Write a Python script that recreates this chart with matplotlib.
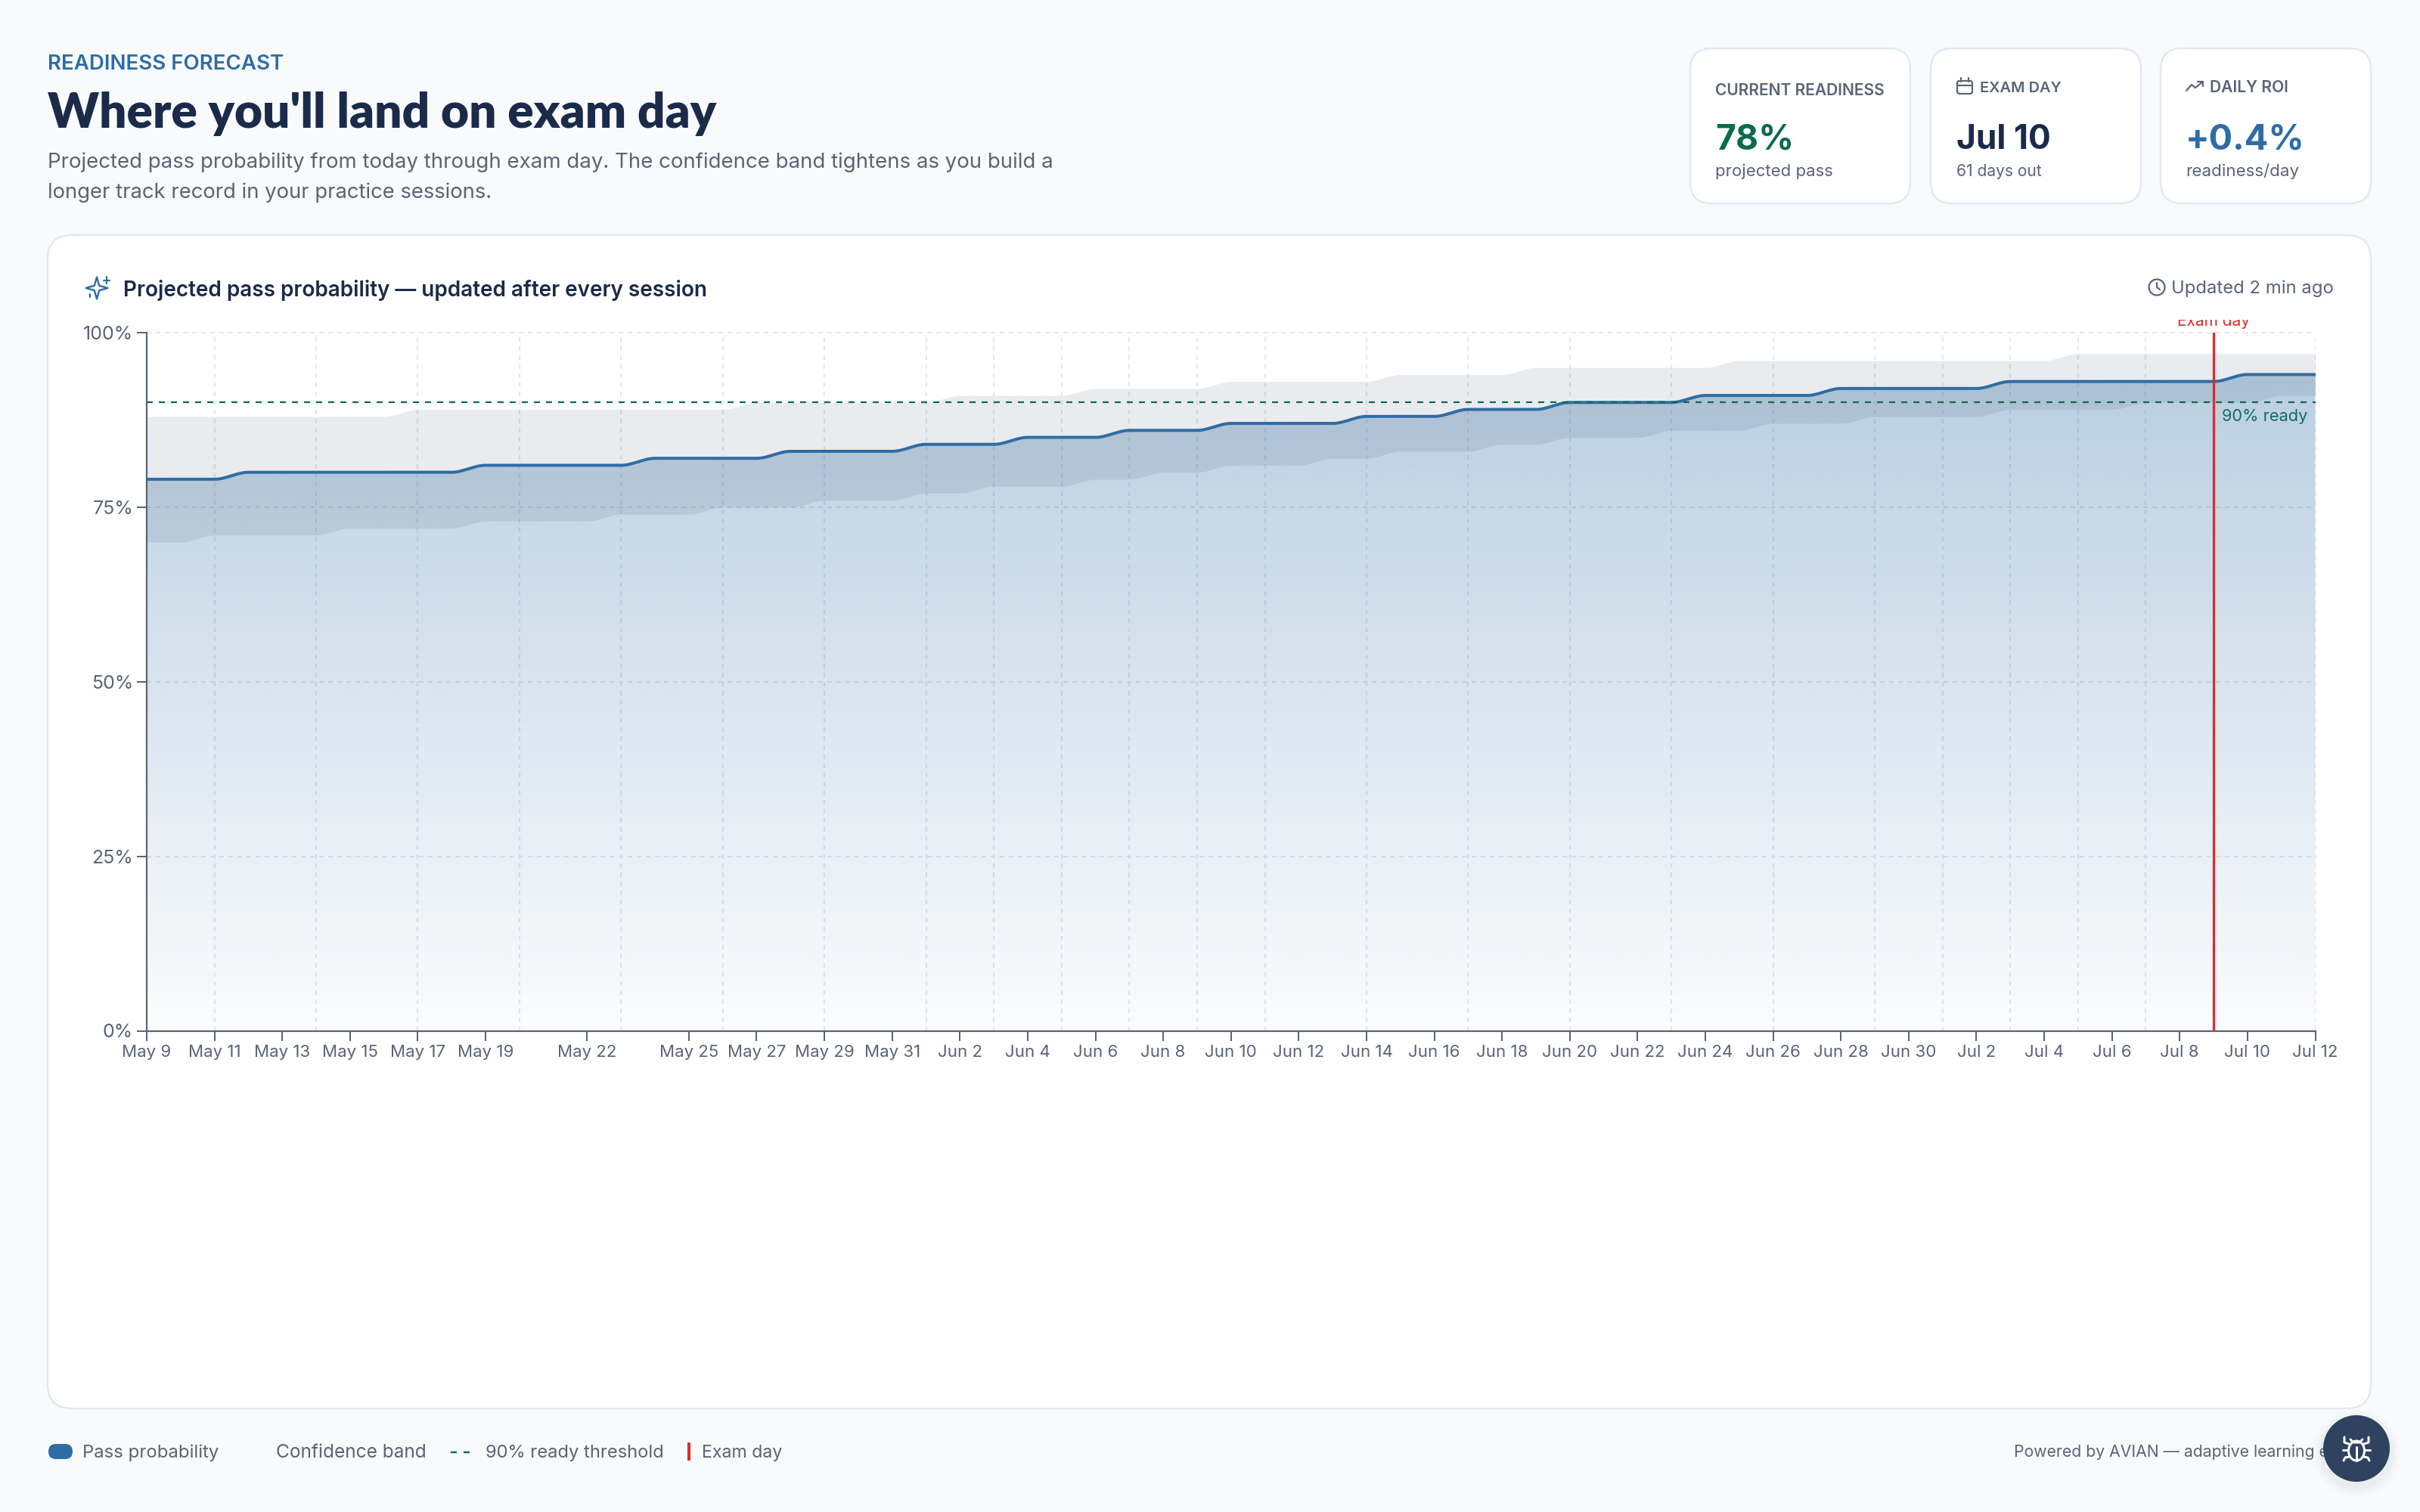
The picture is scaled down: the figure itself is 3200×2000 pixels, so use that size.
#!/usr/bin/env python3
"""Readiness forecast dashboard: pass probability with confidence band."""
import numpy as np
import pandas as pd
import matplotlib
matplotlib.use("Agg")
import matplotlib.pyplot as plt
from matplotlib.patches import Circle, Ellipse, FancyBboxPatch, Polygon, Rectangle

plt.rcParams["font.family"] = ["Inter", "DejaVu Sans"]
plt.rcParams["lines.scale_dashes"] = False

# ---- data, one value per day from May 9 ----
pass_prob = [79, 79, 79, 80, 80, 80, 80, 80, 80, 80, 81, 81, 81, 81, 81, 82, 82, 82, 82, 83, 83, 83, 83,
             84, 84, 84, 85, 85, 85, 86, 86, 86, 87, 87, 87, 87, 88, 88, 88, 89, 89, 89, 90, 90, 90, 90,
             91, 91, 91, 91, 92, 92, 92, 92, 92, 93, 93, 93, 93, 93, 93, 93, 94, 94, 94]
band_high = [88, 88, 88, 88, 88, 88, 88, 88, 89, 89, 89, 89, 89, 89, 89, 89, 89, 89, 90, 90, 90, 90, 90,
             90, 91, 91, 91, 91, 92, 92, 92, 92, 93, 93, 93, 93, 93, 94, 94, 94, 94, 95, 95, 95, 95, 95,
             95, 96, 96, 96, 96, 96, 96, 96, 96, 96, 96, 97, 97, 97, 97, 97, 97, 97, 97]
band_low = [70, 70, 71, 71, 71, 71, 72, 72, 72, 72, 73, 73, 73, 73, 74, 74, 74, 75, 75, 75, 76, 76, 76,
            77, 77, 78, 78, 78, 79, 79, 80, 80, 81, 81, 81, 82, 82, 83, 83, 83, 84, 84, 85, 85, 85, 86,
            86, 86, 87, 87, 87, 88, 88, 88, 88, 89, 89, 89, 89, 90, 90, 90, 90, 91, 91]
threshold = 90
exam_marker = "Jul 9"

x_labels = ["May 9", "May 11", "May 13", "May 15", "May 17", "May 19", "May 22", "May 25", "May 27",
            "May 29", "May 31", "Jun 2", "Jun 4", "Jun 6", "Jun 8", "Jun 10", "Jun 12", "Jun 14",
            "Jun 16", "Jun 18", "Jun 20", "Jun 22", "Jun 24", "Jun 26", "Jun 28", "Jun 30", "Jul 2",
            "Jul 4", "Jul 6", "Jul 8", "Jul 10", "Jul 12"]
grid_labels = ["May 11", "May 14", "May 17", "May 20", "May 23", "May 26", "May 29", "Jun 1", "Jun 3",
               "Jun 5", "Jun 7", "Jun 9", "Jun 11", "Jun 14", "Jun 17", "Jun 20", "Jun 23", "Jun 26",
               "Jun 29", "Jul 1", "Jul 3", "Jul 5", "Jul 7", "Jul 12"]
y_ticks = [0, 25, 50, 75, 100]

INK = "#1a2b4a"
SLATE = "#5a6478"
BLUE = "#2e6da4"
GREEN = "#0b6b4a"
RED = "#dc2b2b"
EDGE = "#e2e8f0"
PX = 72 / 200  # points per output pixel


def day_of(label):
    return (pd.to_datetime(label + " 2025", format="%b %d %Y") - pd.Timestamp("2025-05-09")).days


def monotone(values, per_day=24):
    # flat runs joined by an ease, the way a monotone curve draws them
    days = np.arange(len(values))
    xs = np.linspace(0, days[-1], days[-1] * per_day + 1)
    lo = np.minimum(np.floor(xs).astype(int), days[-1] - 1)
    t = xs - lo
    v = np.asarray(values, dtype=float)
    return xs, v[lo] + (v[lo + 1] - v[lo]) * (3 * t**2 - 2 * t**3)


fig = plt.figure(figsize=(16, 10), dpi=200, facecolor="#f8fafc")

# page furniture is laid out in output pixels
page = fig.add_axes([0, 0, 1, 1])
page.set_xlim(0, 3200)
page.set_ylim(2000, 0)
page.axis("off")


def put(x, y, s, size, color=SLATE, weight="normal", width=None, **kw):
    t = page.text(x, y, s, fontsize=size, color=color, fontweight=weight, va="baseline", **kw)
    if width is not None:
        w = t.get_window_extent(fig.canvas.get_renderer()).width
        t.set_fontsize(size * width / w)
    return t


def card(x0, y0, x1, y1, r):
    page.add_patch(FancyBboxPatch((x0, y0), x1 - x0, y1 - y0, boxstyle=f"round,pad=0,rounding_size={r}",
                                  fc="white", ec=EDGE, lw=2.4 * PX))


def stroke(xs, ys, color=SLATE, lw=2.2):
    page.plot(xs, ys, color=color, lw=lw * PX, solid_capstyle="round", solid_joinstyle="round")


# ---- header ----
put(63, 92, "READINESS FORECAST", 8.6, BLUE, "semibold", width=313)
put(63, 169, "Where you'll land on exam day", 22, INK, "heavy", width=886, family=["Lato", "Inter"])
put(63, 222, "Projected pass probability from today through exam day. The confidence band tightens as you build a",
    10, SLATE, width=1330)
put(63, 262, "longer track record in your practice sessions.", 10, SLATE, width=587)

card(2235, 64, 2526, 269, 28)
card(2553, 64, 2831, 269, 28)
card(2857, 64, 3135, 269, 28)

put(2268, 126, "CURRENT READINESS", 7.5, SLATE, "semibold", width=224)
put(2268, 197, "78%", 18, GREEN, "bold", width=104)
put(2268, 233, "projected pass", 8, SLATE, width=156)

put(2618, 122, "EXAM DAY", 7.5, SLATE, "semibold", width=108)
put(2587, 197, "Jul 10", 18, INK, "bold", width=125)
put(2587, 233, "61 days out", 8, SLATE, width=113)
page.add_patch(FancyBboxPatch((2588, 107), 20, 17, boxstyle="round,pad=0,rounding_size=3",
                              fc="none", ec=SLATE, lw=2.2 * PX))
stroke([2588, 2608], [113, 113])
stroke([2593, 2593], [103, 108])
stroke([2603, 2603], [103, 108])

put(2922, 122, "DAILY ROI", 7.5, SLATE, "semibold", width=104)
put(2890, 197, "+0.4%", 18, BLUE, "bold", width=158)
put(2890, 233, "readiness/day", 8, SLATE, width=150)
stroke([2891, 2898, 2903, 2913], [120, 112, 116, 108])
stroke([2906, 2913, 2913], [108, 108, 114])

# ---- main card ----
card(63, 311, 3135, 1863, 32)
put(163, 392, "Projected pass probability \u2014 updated after every session", 10.5, INK, "semibold", width=774)
put(2871, 388, "Updated 2 min ago", 9, SLATE, width=214)

star = []
for k in range(8):
    r = 14.5 if k % 2 == 0 else 4.5
    a = np.pi / 4 * k
    star.append((128 + r * np.sin(a), 381 - r * np.cos(a)))
page.add_patch(Polygon(star, closed=True, fc="none", ec=BLUE, lw=2.4 * PX, joinstyle="round"))
stroke([141, 141], [366, 375], BLUE)
stroke([137, 145], [370.5, 370.5], BLUE)
stroke([119, 119], [389, 393], BLUE)

page.add_patch(Circle((2852, 380), 10.5, fc="none", ec=SLATE, lw=2.2 * PX))
stroke([2852, 2852, 2856], [374, 380, 383])

put(2938, 557, "90% ready", 8, GREEN, width=114, zorder=6)
exam_text = put(2927, 431, "Exam day", 8, RED, width=96, ha="center", zorder=6)
exam_text.set_clip_path(Rectangle((2800, 423), 260, 17, transform=page.transData))
exam_text.set_clip_on(True)

# ---- legend and footer ----
page.add_patch(FancyBboxPatch((64, 1910), 32, 20, boxstyle="round,pad=0,rounding_size=10", fc=BLUE, ec="none"))
put(109, 1928, "Pass probability", 8.4, SLATE, width=179)
put(365, 1928, "Confidence band", 8.4, SLATE, width=198)
page.plot([596, 604], [1921, 1921], color=GREEN, lw=2.4 * PX, solid_capstyle="butt")
page.plot([613, 621], [1921, 1921], color=GREEN, lw=2.4 * PX, solid_capstyle="butt")
put(642, 1928, "90% ready threshold", 8.4, SLATE, width=235)
page.add_patch(Rectangle((909, 1908), 4, 24, fc=RED, ec="none"))
put(928, 1928, "Exam day", 8.4, SLATE, width=106)
put(2663, 1927, "Powered by AVIAN \u2014 adaptive learning engine", 8, SLATE, width=472)

# round bug button sits over the footer text
for grow, alpha in [(14, 0.012), (9, 0.018), (5, 0.025)]:
    page.add_patch(Circle((3116, 1922), 44 + grow, fc=INK, ec="none", alpha=alpha, zorder=7))
page.add_patch(Circle((3116, 1916), 44, fc="#2f4260", ec="none", zorder=8))
white = dict(color="white", lw=3 * PX, solid_capstyle="round", solid_joinstyle="round", zorder=9)
page.add_patch(Ellipse((3116, 1919), 21, 26, fc="none", ec="white", lw=3 * PX, zorder=9))
page.plot([3116, 3116], [1914, 1932], **white)
page.plot([3108, 3112, 3120, 3124], [1904, 1908, 1908, 1904], **white)
for side in (-1, 1):
    page.plot([3116 + side * 10, 3116 + side * 16, 3116 + side * 16], [1910, 1908, 1901], **white)
    page.plot([3116 + side * 11, 3116 + side * 18], [1918, 1918], **white)
    page.plot([3116 + side * 10, 3116 + side * 15, 3116 + side * 17], [1927, 1928, 1932], **white)

# ---- chart ----
left, right, top, bottom = 194, 3061.5, 440, 1363.5
ax = fig.add_axes([left / 3200, 1 - bottom / 2000, (right - left) / 3200, (bottom - top) / 2000])
ax.patch.set_alpha(0)

days_last = len(pass_prob) - 1
xs, line = monotone(pass_prob)
_, hi = monotone(band_high)
_, lo = monotone(band_low)

for lab in grid_labels:
    ax.axvline(day_of(lab), color=EDGE, lw=2.2 * PX, ls=(0, (6 * PX, 6 * PX)), zorder=1)
for v in y_ticks[1:]:
    ax.axhline(v, color=EDGE, lw=2.2 * PX, ls=(0, (6 * PX, 6 * PX)), zorder=1, clip_on=False)

# area under the line fades out towards 0%
ramp = np.zeros((256, 1, 4))
ramp[..., :3] = matplotlib.colors.to_rgb(BLUE)
ramp[:, 0, 3] = np.linspace(0.35, 0.02, 256)
img = ax.imshow(ramp, extent=[0, days_last, 0, 100], aspect="auto", zorder=2, interpolation="bilinear")
img.set_clip_path(Polygon(np.r_[[[0, 0]], np.c_[xs, line], [[days_last, 0]]], transform=ax.transData))

ax.fill_between(xs, lo, hi, color=INK, alpha=0.09, lw=0, zorder=3)
ax.plot(xs, line, color=BLUE, lw=4 * PX, zorder=4, solid_joinstyle="round")
ax.axhline(threshold, color=GREEN, lw=2.2 * PX, ls=(0, (8 * PX, 8 * PX)), zorder=5)
ax.axvline(day_of(exam_marker), color=RED, lw=3.2 * PX, zorder=6)

ax.set_xlim(0, days_last)
ax.set_ylim(0, 100)
ax.set_xticks([day_of(lab) for lab in x_labels], x_labels)
ax.set_yticks(y_ticks, [f"{v}%" for v in y_ticks])
ax.tick_params(axis="x", length=13 * PX, width=2 * PX, color=SLATE, labelcolor=SLATE, labelsize=8, pad=5 * PX)
ax.tick_params(axis="y", length=13 * PX, width=2 * PX, color=SLATE, labelcolor=SLATE, labelsize=9, pad=5 * PX)
for name in ("top", "right"):
    ax.spines[name].set_visible(False)
for name in ("left", "bottom"):
    ax.spines[name].set_color(SLATE)
    ax.spines[name].set_linewidth(2.2 * PX)

fig.savefig("out.png", dpi=200, facecolor=fig.get_facecolor())
